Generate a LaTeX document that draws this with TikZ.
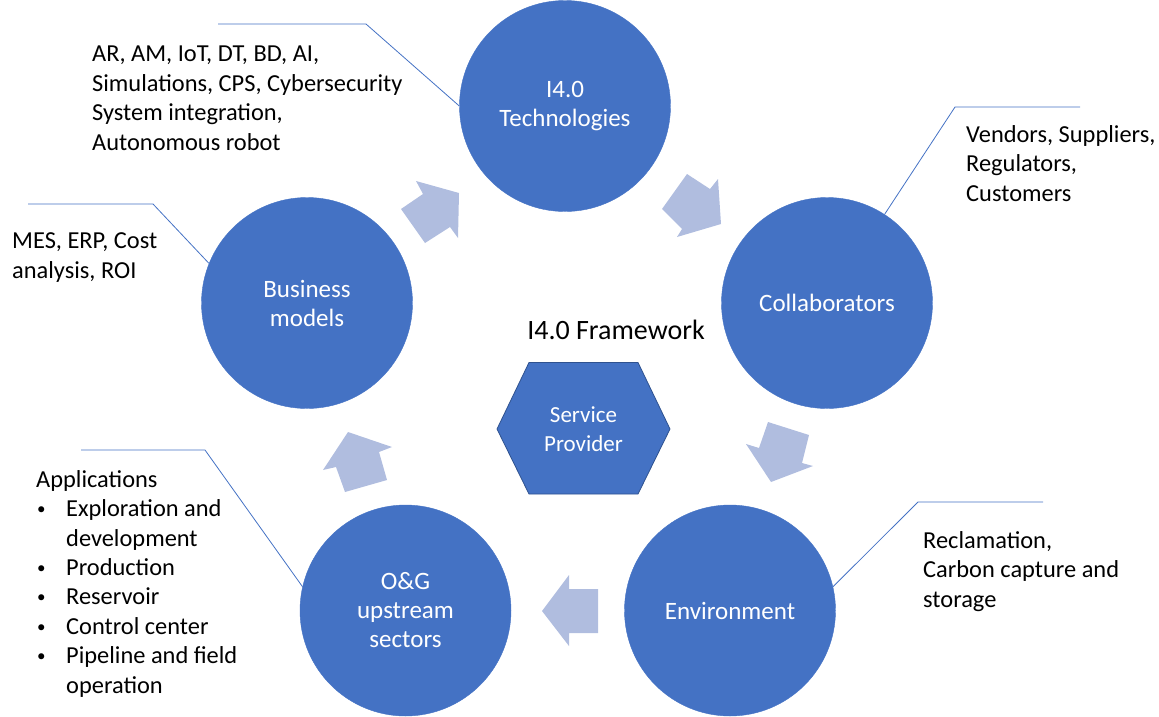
\documentclass[tikz,border=0pt]{standalone}
\usepackage{fontspec}
\setmainfont{Carlito}
\definecolor{cblue}{HTML}{4472C4}
\definecolor{cedge}{HTML}{2F528F}
\definecolor{carrow}{RGB}{176,189,223}
\tikzset{
  bigcirc/.style={circle, fill=cblue, draw=cblue, minimum size=211pt, inner sep=0pt, text=white, align=center, font=\fontsize{25}{29}\selectfont},
  lbl/.style={anchor=base west, inner sep=0pt, align=left, font=\fontsize{24.4}{29.4}\selectfont, text=black},
  callout/.style={draw=cblue, line width=0.8pt},
  blockarrow/.style={fill=carrow, draw=none},
}
\newcommand{\bl}{\makebox[30pt][l]{\hspace*{1pt}\raisebox{2pt}{\fontsize{17}{17}\selectfont\textbullet}}}
\begin{document}
\begin{tikzpicture}[x=1pt, y=-1pt]
\useasboundingbox (0,0) rectangle (1159,716);
% circles
\node[bigcirc] (tech) at (565,106) {I4.0\\Technologies};
\node[bigcirc] (collab) at (827,303) {Collaborators};
\node[bigcirc] (env) at (730,610.5) {Environment};
\node[bigcirc] (og) at (405.5,610.5) {O\&G\\upstream\\sectors};
\node[bigcirc] (biz) at (307,303) {Business\\models};
% hexagon
\coordinate (h1) at (497,429);
\coordinate (h2) at (529,362.5);
\coordinate (h3) at (638,362.5);
\coordinate (h4) at (670,429);
\coordinate (h5) at (638,494);
\coordinate (h6) at (529,494);
\fill[cblue] (h1) -- (h2) -- (h3) -- (h4) -- (h5) -- (h6) -- cycle;
\draw[cedge, line width=0.8pt] (h1) -- (h2) -- (h3) -- (h4) -- (h5) -- (h6) -- cycle;
\node[text=white, align=center, font=\fontsize{23}{29}\selectfont] (sp) at (583.5,429) {Service\\Provider};
% title
\node[font=\fontsize{28}{32}\selectfont] (title) at (616,330) {I4.0 Framework};
% block arrows
\fill[blockarrow] (416,181) -- (459,193) -- (458,238) -- (450,227) -- (425,243) -- (401,209) -- (423,194) -- cycle;
\fill[blockarrow] (687,174) -- (710,189) -- (718,179) -- (721,224) -- (677,237) -- (682,229) -- (662,209) -- cycle;
\fill[blockarrow] (768,422) -- (809,435) -- (802,463) -- (813,466) -- (771,482) -- (746,444) -- (759,448) -- cycle;
\fill[blockarrow] (542,611) -- (569,575) -- (569,589) -- (598,589) -- (598,633) -- (569,633) -- (569,646) -- cycle;
\fill[blockarrow] (348,432) -- (392,447) -- (379,452) -- (387,480) -- (345,492) -- (336,467) -- (323,470) -- cycle;
% callout lines
\coordinate (c1a) at (218,24);  \coordinate (c1b) at (366,24);
\draw[callout] (c1a) -- (c1b) -- (tech.180);
\coordinate (c2a) at (1080,107); \coordinate (c2b) at (955,107);
\draw[callout] (c2a) -- (c2b) -- (collab.57);
\coordinate (c3a) at (28,204); \coordinate (c3b) at (153,204);
\draw[callout] (c3a) -- (c3b) -- (biz.158);
\coordinate (c4a) at (81,450); \coordinate (c4b) at (205,450);
\draw[callout] (c4a) -- (c4b) -- (og.167);
\coordinate (c5a) at (1043,502); \coordinate (c5b) at (918,502);
\draw[callout] (c5a) -- (c5b) -- (env.13);
% labels (base anchor = baseline of last line)
\node[lbl] (ltech) at (92,150) {AR, AM, IoT, DT, BD, AI,\\Simulations, CPS, Cybersecurity\\System integration,\\Autonomous robot};
\node[lbl] (lcollab) at (966,201) {Vendors, Suppliers,\\Regulators,\\Customers};
\node[lbl] (lbiz) at (12,278) {MES, ERP, Cost\\analysis, ROI};
\node[lbl] (log) at (36,693) {Applications\\\bl Exploration and\\\hspace*{30pt}development\\\bl Production\\\bl Reservoir\\\bl Control center\\\bl Pipeline and field\\\hspace*{30pt}operation};
\node[lbl] (lenv) at (923,607) {Reclamation,\\Carbon capture and\\storage};
\end{tikzpicture}
\end{document}
